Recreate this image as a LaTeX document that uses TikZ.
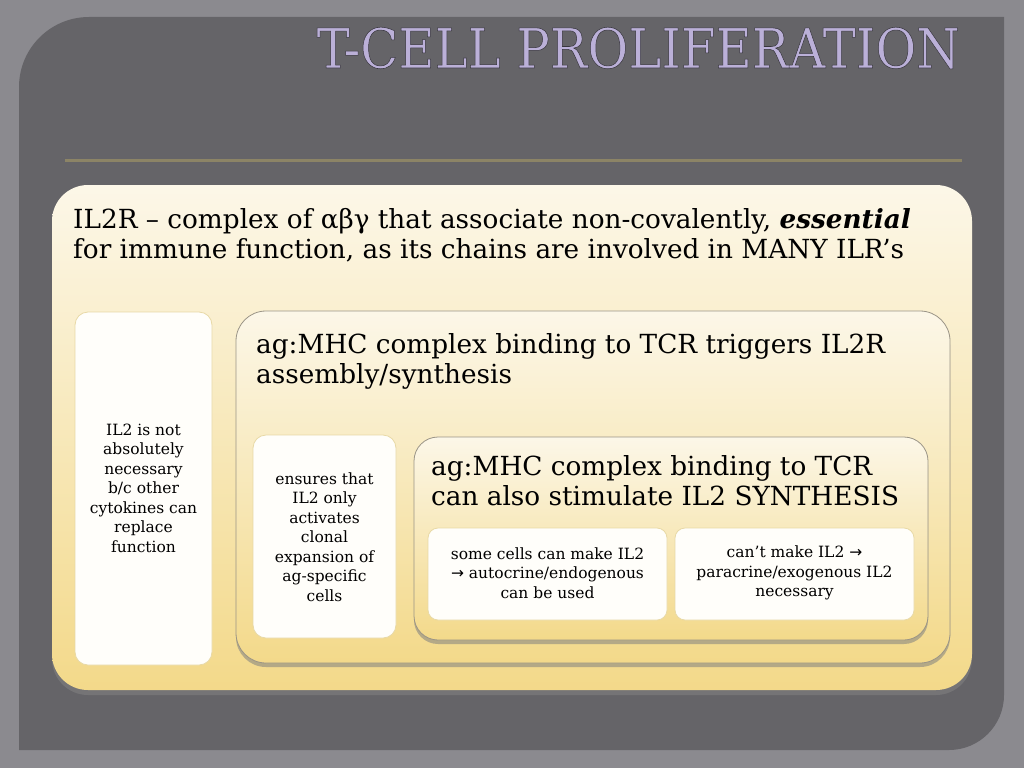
\documentclass[tikz,border=0pt]{standalone}
\usepackage{fontspec}
\usepackage{graphicx}
\setmainfont{DejaVu Serif}
\newfontfamily\symf{DejaVu Sans}
\usetikzlibrary{shadows}
\definecolor{bgout}{HTML}{8B8A8F}
\definecolor{panelc}{HTML}{656468}
\definecolor{rulec}{HTML}{8C8466}
\definecolor{creamtop}{HTML}{FCF7E8}
\definecolor{yellowbot}{HTML}{F3D98A}
\definecolor{boxedge}{HTML}{9A9486}
\definecolor{whitefill}{HTML}{FFFEFA}
\definecolor{whiteedge}{HTML}{E8D9A6}
\definecolor{lavender}{HTML}{BBB0D8}
\newcommand{\rarr}{{\symf →}}
\newcommand{\outlinedtitle}[1]{{\color{lavender}\special{pdf:literal direct 2 Tr 0.55 w 0.22 0.21 0.24 RG}#1\special{pdf:literal direct 0 Tr}}}
\tikzset{
  bigbox/.style={rectangle, rounded corners=36pt, top color=creamtop, bottom color=yellowbot,
    draw=none, inner sep=0pt, drop shadow={opacity=0.6, shadow xshift=0pt, shadow yshift=-5pt}},
  midbox/.style={rectangle, rounded corners=30pt, top color=creamtop, bottom color=yellowbot,
    draw=boxedge, line width=0.8pt, inner sep=0pt, drop shadow={opacity=0.55, shadow xshift=0pt, shadow yshift=-4pt}},
  innerbox/.style={rectangle, rounded corners=24pt, top color=creamtop, bottom color=yellowbot,
    draw=boxedge, line width=0.8pt, inner sep=0pt, drop shadow={opacity=0.55, shadow xshift=0pt, shadow yshift=-4pt}},
  whitebox/.style={rectangle, rounded corners=13pt, fill=whitefill, draw=whiteedge, line width=0.8pt, inner sep=0pt},
  bigtext/.style={inner sep=0pt, align=left, font=\fontsize{26.3}{30.5}\selectfont, text=black},
  smalltext/.style={inner sep=0pt, align=center, font=\fontsize{15.5}{19.5}\selectfont, text=black},
}
\begin{document}
\begin{tikzpicture}[x=1pt,y=-1pt]
\useasboundingbox (0,0) rectangle (1024,768);
\fill[bgout] (0,0) rectangle (1024,768);
% dark panel
\fill[panelc] (19,750) -- (19,87) arc[start angle=180,end angle=270,radius=70] -- (1004,17)
  -- (1004,695) arc[start angle=0,end angle=90,radius=55] -- cycle;
% title
\node[inner sep=0pt, anchor=base east, font=\fontsize{55}{55}\selectfont] (title) at (960,68)
  {\scalebox{0.905}[1]{\outlinedtitle{T-CELL PROLIFERATION}}};
% rule
\coordinate (ruleL) at (65,160);
\coordinate (ruleR) at (962,160);
\draw[rulec, line width=3pt] (ruleL) -- (ruleR);
% big box
\node[bigbox, minimum width=920pt, minimum height=505pt] (big) at (512,437.5) {};
\node[bigtext, anchor=north west] (bigtxt) at (73,208)
  {IL2R – complex of αβγ that associate non-covalently, \textbf{\textit{essential}}\\
   for immune function, as its chains are involved in MANY ILR’s};
% left white box
\node[whitebox, minimum width=137pt, minimum height=353pt] (left) at (143.5,488.5) {};
\node[smalltext] (lefttxt) at (143.5,488)
  {IL2 is not\\absolutely\\necessary\\b/c other\\cytokines can\\replace\\function};
% middle box
\node[midbox, minimum width=714pt, minimum height=352pt] (mid) at (593,487) {};
\node[bigtext, anchor=north west] (midtxt) at (256,333)
  {ag:MHC complex binding to TCR triggers IL2R\\assembly/synthesis};
% ensures box
\node[whitebox, minimum width=143pt, minimum height=203pt] (ens) at (324.5,536.5) {};
\node[smalltext] (enstxt) at (324.5,537)
  {ensures that\\IL2 only\\activates\\clonal\\expansion of\\ag-specific\\cells};
% inner box
\node[innerbox, minimum width=514pt, minimum height=203pt] (inner) at (671,538.5) {};
\node[bigtext, anchor=north west] (innertxt) at (431,455)
  {ag:MHC complex binding to TCR\\can also stimulate IL2 SYNTHESIS};
% two small boxes
\node[whitebox, rounded corners=10pt, minimum width=239pt, minimum height=92pt] (auto) at (547.5,574) {};
\node[smalltext] (autotxt) at (547.5,573)
  {some cells can make IL2\\\rarr{} autocrine/endogenous\\can be used};
\node[whitebox, rounded corners=10pt, minimum width=239pt, minimum height=92pt] (para) at (794.5,574) {};
\node[smalltext] (paratxt) at (794.5,573)
  {can’t make IL2 \rarr\\paracrine/exogenous IL2\\necessary};
\end{tikzpicture}
\end{document}
